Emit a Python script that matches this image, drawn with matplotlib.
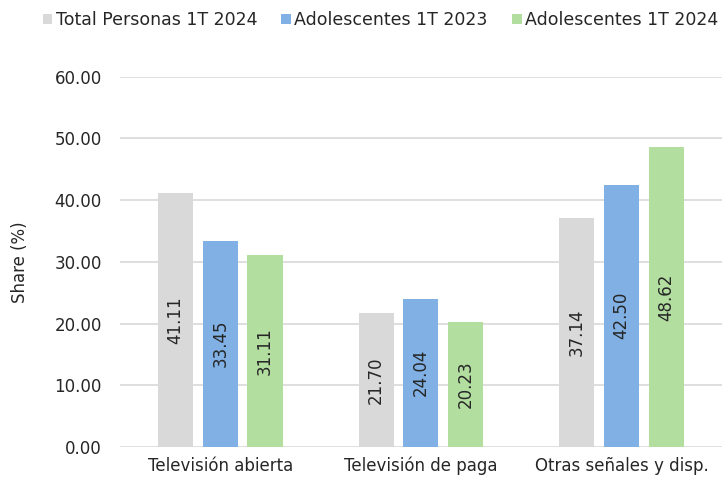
import matplotlib
matplotlib.use("Agg")
import matplotlib.pyplot as plt
import numpy as np

plt.rcParams.update({
    "font.family": ["DejaVu Sans"],
    "font.size": 12,
})

categories = ["Televisión abierta", "Televisión de paga", "Otras señales y disp."]
series_names = ["Total Personas 1T 2024", "Adolescentes 1T 2023", "Adolescentes 1T 2024"]
total_2024 = [41.11, 21.70, 37.14]
adol_2023 = [33.45, 24.04, 42.50]
adol_2024 = [31.11, 20.23, 48.62]
colors = ["#d9d9d9", "#80b0e4", "#b2dea0"]
yticks = [0, 10, 20, 30, 40, 50, 60]

fig = plt.figure(figsize=(7.22, 4.80), dpi=100)
ax = fig.add_axes([0.166, 0.069, 0.834, 0.771])

x = np.arange(len(categories))
width = 0.175
step = 0.223
for i, (vals, name, col) in enumerate(zip([total_2024, adol_2023, adol_2024], series_names, colors)):
    pos = x + (i - 1) * step
    bars = ax.bar(pos, vals, width=width, color=col, label=name, zorder=2)
    for b, v in zip(bars, vals):
        ax.text(b.get_x() + b.get_width() / 2, v / 2, f"{v:.2f}", rotation=90,
                ha="center", va="center", fontsize=12, color="#262626")

ax.set_xlim(-0.5, 2.5)
ax.set_ylim(0, 60)
ax.set_yticks(yticks)
ax.set_yticklabels([f"{t:.2f}" for t in yticks], color="#262626")
ax.set_xticks(x)
ax.set_xticklabels(categories, color="#262626")
ax.tick_params(length=0, labelsize=12)
ax.tick_params(axis="y", pad=13)
ax.tick_params(axis="x", pad=7)
ax.grid(axis="y", color="#d9d9d9", linewidth=1.2, zorder=0)
for s in ax.spines.values():
    s.set_visible(False)
ax.set_ylabel("Share (%)", fontsize=12, color="#262626", labelpad=18)

ax.legend(loc="upper right", bbox_to_anchor=(1.02, 1.22), ncol=3, frameon=False,
          handlelength=0.55, handleheight=0.55, handletextpad=0.2, columnspacing=1.4,
          fontsize=12.5, labelcolor="#262626")

fig.savefig("out.png", dpi=100)
